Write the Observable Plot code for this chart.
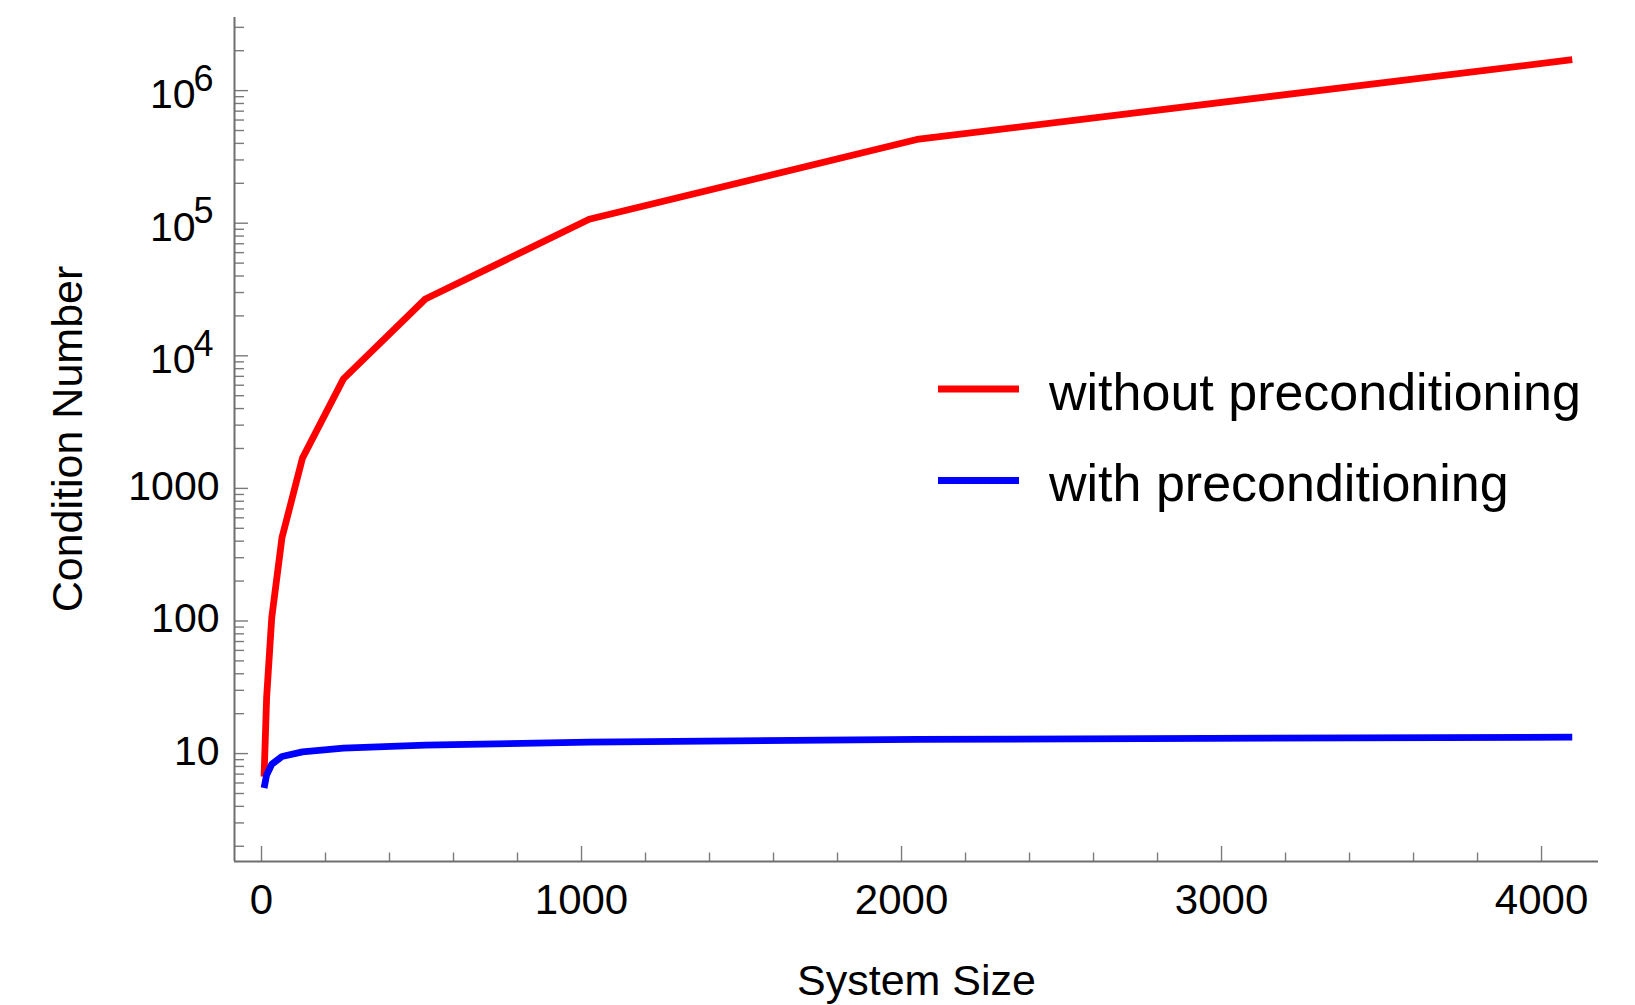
<!DOCTYPE html>
<html>
<head>
<meta charset="utf-8">
<script src="https://cdn.jsdelivr.net/npm/d3@7"></script>
<script src="https://cdn.jsdelivr.net/npm/@observablehq/plot@0.6"></script>
<style>
  html, body { margin: 0; padding: 0; background: #fff; }
  #chart svg { display: block; }
</style>
</head>
<body>
<div id="chart"></div>
<script>
// ---- data ----
const systemSize = [8, 16, 32, 64, 128, 256, 512, 1024, 2048, 4096];
const withoutPreconditioning = [6.7, 26.5, 106, 425, 1690, 6700, 26800, 107000, 428000, 1710000];
const withPreconditioning = [5.5, 6.9, 8.3, 9.5, 10.3, 11.0, 11.6, 12.2, 12.8, 13.3];
const seriesNames = ["without preconditioning", "with preconditioning"];
const seriesColors = ["#ff0000", "#0000ff"];

// ---- ticks ----
const xMajorTicks = [0, 1000, 2000, 3000, 4000];
const xMinorTicks = [200, 400, 600, 800, 1200, 1400, 1600, 1800, 2200, 2400, 2600, 2800, 3200, 3400, 3600, 3800];
const yPlainTicks = [10, 100, 1000];
const yPowerExponents = [4, 5, 6];
const yMajorTicks = [10, 100, 1000, 1e4, 1e5, 1e6];
const xDomain = [-84.4, 4178];
const yDomain = [1.535, 3.56e6];
const yMinorTicks = [];
for (let k = 0; k <= 6; k++) for (let m = 2; m <= 9; m++) {
  const v = m * Math.pow(10, k);
  if (v >= yDomain[0] && v <= yDomain[1]) yMinorTicks.push(v);
}

const rows = [];
systemSize.forEach((s, i) => {
  rows.push({size: s, value: withoutPreconditioning[i], series: seriesNames[0]});
});
systemSize.forEach((s, i) => {
  rows.push({size: s, value: withPreconditioning[i], series: seriesNames[1]});
});

const W = 1635, H = 1005;
const mL = 234, mR = 37, mT = 17, mB = 144;
const innerW = W - mL - mR, innerH = H - mT - mB;
const axisColor = "#6e6e6e";
const tickColor = "#7a7a7a";

const svg = Plot.plot({
  width: W,
  height: H,
  marginLeft: mL,
  marginRight: mR,
  marginTop: mT,
  marginBottom: mB,
  style: {fontFamily: "'Liberation Sans', Arial, sans-serif", background: "#fff", color: "#000"},
  x: {type: "linear", domain: xDomain, axis: null},
  y: {type: "log", domain: yDomain, axis: null},
  color: {domain: seriesNames, range: seriesColors},
  marks: [
    // ticks (inward)
    Plot.tickX(xMinorTicks, {x: d => d, insetTop: innerH - 8.5, stroke: tickColor, strokeWidth: 1.4}),
    Plot.tickX(xMajorTicks, {x: d => d, insetTop: innerH - 15, stroke: tickColor, strokeWidth: 1.4}),
    Plot.tickY(yMinorTicks, {y: d => d, insetRight: innerW - 10, stroke: tickColor, strokeWidth: 1.4}),
    Plot.tickY(yMajorTicks, {y: d => d, insetRight: innerW - 14, stroke: tickColor, strokeWidth: 1.4}),
    // axis lines
    Plot.ruleX([xDomain[0]], {stroke: axisColor, strokeWidth: 2}),
    Plot.ruleY([yDomain[0]], {stroke: axisColor, strokeWidth: 2}),
    // data lines
    Plot.line(rows, {
      x: "size", y: "value", z: "series", stroke: "series",
      strokeWidth: 6.8, strokeLinecap: "butt", strokeLinejoin: "miter"
    }),
    // x tick labels
    Plot.text(xMajorTicks, {x: d => d, text: d => String(d), frameAnchor: "bottom", dy: 52, lineAnchor: "bottom", fontSize: 42}),
    // y tick labels
    Plot.text(yPlainTicks, {y: d => d, text: d => String(d), frameAnchor: "left", textAnchor: "end", dx: -15, dy: 11.5, lineAnchor: "bottom", fontSize: 41}),
    Plot.text(yPowerExponents, {y: k => Math.pow(10, k), text: () => "10", frameAnchor: "left", textAnchor: "end", dx: -39, dy: 17.5, lineAnchor: "bottom", fontSize: 41}),
    Plot.text(yPowerExponents, {y: k => Math.pow(10, k), text: k => String(k), frameAnchor: "left", textAnchor: "start", dx: -41, dy: 0, lineAnchor: "bottom", fontSize: 36}),
    // x axis title
    Plot.text(["System Size"], {text: d => d, frameAnchor: "bottom", dy: 133, lineAnchor: "bottom", fontSize: 43})
  ]
});

// y axis title (rotated)
d3.select(svg).append("text")
  .attr("transform", `translate(82, ${mT + innerH / 2}) rotate(-90)`)
  .attr("text-anchor", "middle")
  .attr("font-size", 43)
  .attr("fill", "#000")
  .text("Condition Number");

// legend inside the plot area
const legend = d3.select(svg).append("g").attr("class", "legend");
const legendItems = seriesNames.map((name, i) => ({name, color: seriesColors[i], i}));
const lg = legend.selectAll("g").data(legendItems).join("g")
  .attr("transform", d => `translate(938, ${389 + d.i * 91.5})`);
lg.append("line")
  .attr("x1", 0).attr("x2", 81).attr("y1", 0).attr("y2", 0)
  .attr("stroke", d => d.color).attr("stroke-width", 6.8);
lg.append("text")
  .attr("x", 111).attr("y", 20.5)
  .attr("text-anchor", "start")
  .attr("font-size", 52)
  .attr("fill", "#000")
  .text(d => d.name);

document.getElementById("chart").appendChild(svg);
</script>
</body>
</html>
